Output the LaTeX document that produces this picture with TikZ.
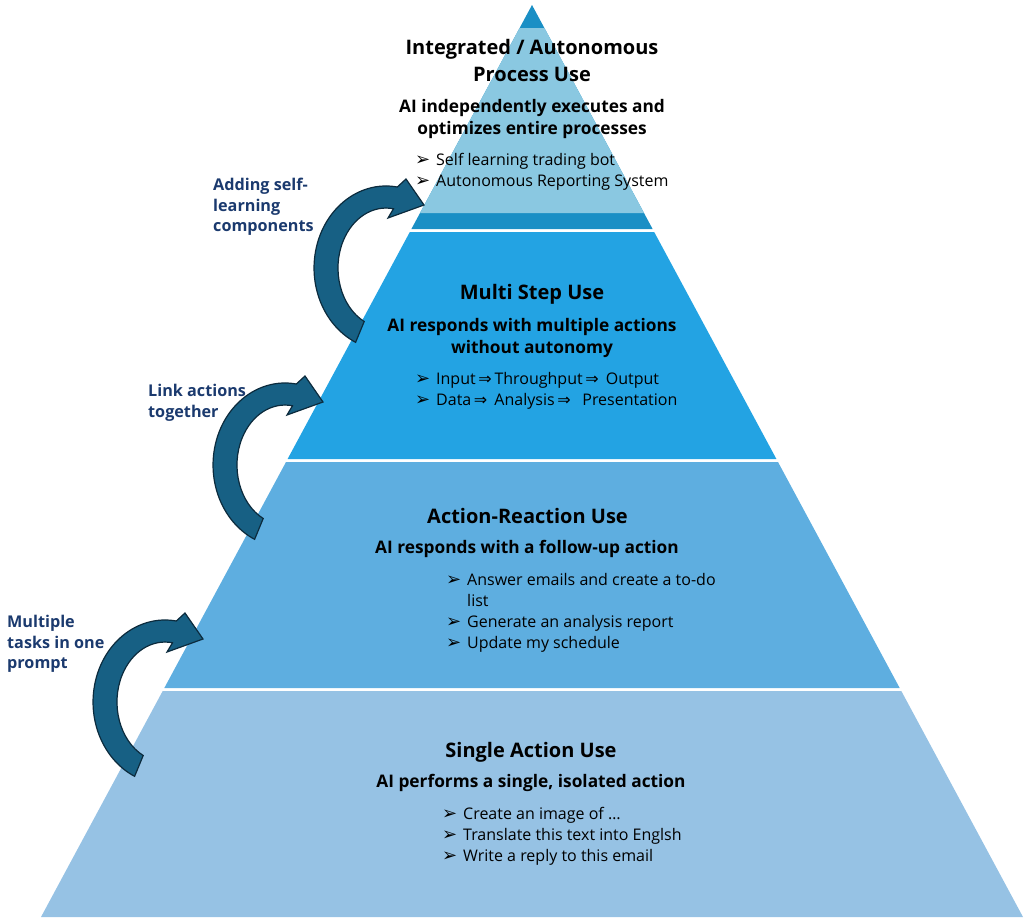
\documentclass[tikz,border=0pt]{standalone}
\usepackage{fontspec}
\setmainfont{Open Sans}
\newfontfamily\symfont{DejaVu Sans}
\usetikzlibrary{calc}

\definecolor{topdark}{HTML}{1A8FC5}
\definecolor{toplight}{HTML}{8AC8E1}
\definecolor{multistep}{HTML}{23A3E3}
\definecolor{actreact}{HTML}{5EAEE0}
\definecolor{single}{HTML}{96C2E4}
\definecolor{arrowfill}{HTML}{176084}
\definecolor{arrowline}{HTML}{0C2B3D}
\definecolor{labelnavy}{HTML}{1B3A6E}

\newcommand{\bul}{\makebox[21pt][l]{\symfont\fontsize{18}{18}\selectfont ➢}}
\newcommand{\then}{{\symfont ⇒}}

\begin{document}
\begin{tikzpicture}[x=1pt,y=-1pt,
    title/.style={font=\fontsize{20}{27}\selectfont\bfseries, align=center, anchor=north, inner sep=0pt},
    subtitle/.style={font=\fontsize{17.3}{22}\selectfont\bfseries, align=center, anchor=north, inner sep=0pt},
    bullets/.style={font=\fontsize{16}{21}\selectfont, align=left, anchor=north west, inner sep=0pt},
    sidelabel/.style={font=\fontsize{16.2}{20.5}\selectfont\bfseries, text=labelnavy, align=left, anchor=north west, inner sep=0pt},
    curved arrow/.pic={
      \draw[fill=arrowfill, draw=arrowline, line width=1.2pt, line join=miter]
        (11.3,-81) arc[start angle=-81, end angle=-245, x radius=72, y radius=82]
        -- (-21.8,53.5) arc[start angle=-243, end angle=-81, x radius=48, y radius=60]
        -- (2,-50) -- (38,-63) -- (20,-89) -- cycle;
    }]
  \useasboundingbox (0,0) rectangle (1024,921);

  % pyramid layers
  \fill[topdark] (532,5) -- (652.6,229) -- (411.4,229) -- cycle;
  \fill[toplight] (519.6,28) -- (544.4,28) -- (644,213) -- (420,213) -- cycle;
  \fill[multistep] (409.8,232) -- (654.2,232) -- (776.4,459) -- (287.6,459) -- cycle;
  \fill[actreact] (286,462) -- (778,462) -- (899.7,688) -- (164.3,688) -- cycle;
  \fill[single] (162.7,691) -- (901.3,691) -- (1023,917) -- (41,917) -- cycle;

  % level 4
  \node[title] (auto title) at (532,39.2) {Integrated / Autonomous\\Process Use};
  \node[subtitle] (auto sub) at (532,98.9) {AI independently executes and\\optimizes entire processes};
  \node[bullets] (auto list) at (415,153.2) {\bul Self learning trading bot\\\bul Autonomous Reporting System};

  % level 3
  \node[title] (multi title) at (532,284.2) {Multi Step Use};
  \node[subtitle] (multi sub) at (532,318.2) {AI responds with multiple actions\\without autonomy};
  \node[bullets] (multi list) at (415,372.2) {\bul Input\,\then\,Throughput\,\then\;\,Output\\
    \bul Data\,\then\;\,Analysis\,\then\;\;\,Presentation};

  % level 2
  \node[title] (react title) at (527.5,508.2) {Action-Reaction Use};
  \node[subtitle] (react sub) at (527,540.2) {AI responds with a follow-up action};
  \node[bullets] (react list) at (446,573.2) {\bul Answer emails and create a to-do\\
    \hspace*{21pt}list\\\bul Generate an analysis report\\\bul Update my schedule};

  % level 1
  \node[title] (single title) at (531,742.2) {Single Action Use};
  \node[subtitle] (single sub) at (531,774.2) {AI performs a single, isolated action};
  \node[bullets] (single list) at (442,807.2) {\bul Create an image of \dots\\
    \bul Translate this text into Englsh\\\bul Write a reply to this email};

  % steps between the levels
  \pic at (386,268) {curved arrow};
  \pic at (285,465) {curved arrow};
  \pic at (165,702) {curved arrow};

  \node[sidelabel] (self learning) at (213,178) {Adding self-\\learning\\components};
  \node[sidelabel] (link actions) at (148,384) {Link actions\\together};
  \node[sidelabel] (multi tasks) at (7,615) {Multiple\\tasks in one\\prompt};
\end{tikzpicture}
\end{document}
